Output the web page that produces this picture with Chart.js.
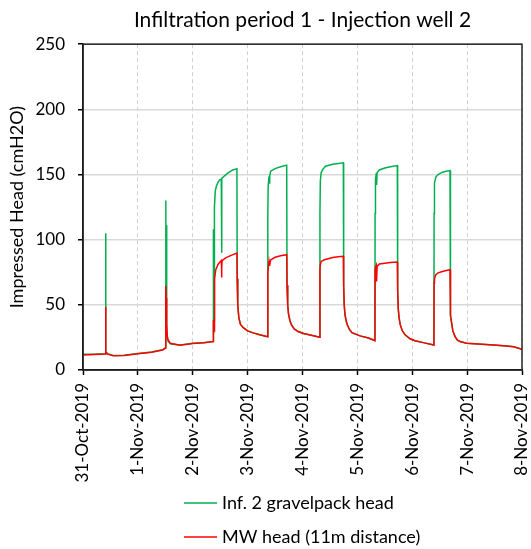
<!DOCTYPE html>
<html lang="en">
<head>
  <meta charset="UTF-8">
  <title>Infiltration period 1 - Injection well 2</title>
  <script src="https://cdn.jsdelivr.net/npm/chart.js"></script>
  <style>
    html, body { margin: 0; padding: 0; background: #fff; }
    #wrap { width: 531px; height: 549px; }
  </style>
</head>
<body>
  <div id="wrap"><canvas id="chartCanvas" width="531" height="549"></canvas></div>

  <script>
    // x values are days since 31-Oct-2019 00:00
    const tickLabels = ['31-Oct-2019', '1-Nov-2019', '2-Nov-2019', '3-Nov-2019', '4-Nov-2019',
                        '5-Nov-2019', '6-Nov-2019', '7-Nov-2019', '8-Nov-2019'];
    const yTicks = [0, 50, 100, 150, 200, 250];

    const gravelDays = [0.00, 0.20, 0.41, 0.413, 0.417, 0.45, 0.55, 0.75, 1.00, 1.25, 1.45, 1.505,
      1.507, 1.512, 1.515, 1.52, 1.53, 1.55, 1.60, 1.77, 2.00, 2.20, 2.372,
      2.375, 2.378, 2.39, 2.395, 2.41, 2.43, 2.46, 2.49, 2.52, 2.523, 2.53, 2.533, 2.58, 2.65, 2.73, 2.805,
      2.81, 2.82, 2.84, 2.87, 2.92, 3.00, 3.10, 3.22, 3.365,
      3.368, 3.375, 3.39, 3.40, 3.405, 3.42, 3.50, 3.60, 3.712,
      3.718, 3.73, 3.745, 3.77, 3.80, 3.85, 3.92, 4.02, 4.14, 4.315,
      4.318, 4.325, 4.34, 4.37, 4.42, 4.55, 4.65, 4.744,
      4.75, 4.76, 4.775, 4.805, 4.85, 4.90, 5.05, 5.20, 5.32,
      5.323, 5.33, 5.345, 5.35, 5.36, 5.40, 5.50, 5.60, 5.728,
      5.734, 5.745, 5.76, 5.78, 5.82, 5.87, 5.96, 6.05, 6.20, 6.395,
      6.398, 6.405, 6.43, 6.47, 6.55, 6.62, 6.688,
      6.693, 6.70, 6.718, 6.74, 6.78, 6.82, 6.87, 6.99, 7.20, 7.48, 7.72, 7.85, 8.00];
    const gravelHead = [12.0, 12.0, 12.5, 105, 14.0, 12.5, 11.2, 11.3, 12.6, 13.8, 15.5, 17.0,
      130, 60, 111, 45, 30, 22, 20.0, 19.2, 20.5, 21.0, 21.8,
      108, 38, 38, 125, 137, 141, 144, 146, 146.5, 90, 90, 147, 149, 151.5, 153.5, 154.5,
      70, 50, 40, 35, 32.5, 30, 28.5, 27, 25.6,
      120, 142, 148.7, 143, 149, 152.6, 154.5, 156, 157.2,
      65, 50, 43, 38, 34.6, 31.5, 29.5, 28, 26.9, 25.1,
      120, 145, 151.3, 154, 156.4, 157.8, 158.5, 159,
      65, 50, 42, 36, 31.5, 28.7, 26.2, 24.5, 22.6,
      120, 146, 151, 142, 151.5, 153.5, 155, 156, 156.9,
      62, 47, 40, 35, 30, 27, 24, 22.5, 21, 19.2,
      120, 143.6, 148, 150, 151.8, 152.5, 153,
      55, 42, 36, 30, 25.6, 23, 21.8, 20.5, 20, 19.2, 18.5, 17.8, 15.9];

    const mwDays = [0.00, 0.20, 0.41, 0.413, 0.417, 0.45, 0.55, 0.75, 1.00, 1.25, 1.45, 1.505,
      1.508, 1.515, 1.525, 1.54, 1.59, 1.77, 2.00, 2.20, 2.372,
      2.375, 2.378, 2.39, 2.393, 2.40, 2.42, 2.46, 2.50, 2.523, 2.526, 2.53, 2.535, 2.60, 2.70, 2.805,
      2.81, 2.82, 2.84, 2.87, 2.92, 3.00, 3.10, 3.22, 3.365,
      3.368, 3.38, 3.39, 3.40, 3.42, 3.50, 3.60, 3.712,
      3.718, 3.73, 3.745, 3.77, 3.80, 3.85, 3.92, 4.02, 4.14, 4.315,
      4.318, 4.325, 4.34, 4.40, 4.55, 4.65, 4.744,
      4.75, 4.76, 4.775, 4.805, 4.85, 4.90, 5.05, 5.20, 5.32,
      5.323, 5.33, 5.345, 5.35, 5.36, 5.40, 5.50, 5.60, 5.728,
      5.734, 5.745, 5.76, 5.78, 5.82, 5.87, 5.96, 6.05, 6.20, 6.395,
      6.398, 6.405, 6.43, 6.47, 6.55, 6.62, 6.688,
      6.693, 6.70, 6.718, 6.74, 6.78, 6.82, 6.87, 6.99, 7.20, 7.48, 7.72, 7.85, 8.00];
    const mwHead = [11.5, 11.8, 12.3, 48.5, 13.5, 12.2, 11.0, 11.2, 12.5, 13.6, 15.4, 16.8,
      64.6, 55, 35, 24, 20.5, 19.0, 20.3, 20.9, 21.8,
      38.5, 28, 30, 62, 70, 77, 81, 83, 84, 71, 78, 84, 86, 88, 89.7,
      70, 50, 40, 35, 32.5, 30, 28.5, 27, 25.6,
      74.4, 80, 83.3, 80, 84.5, 86.5, 87.7, 88.5,
      65, 50, 43, 38, 34.6, 31.5, 29.5, 28, 26.9, 25.1,
      77, 80.8, 83.3, 84.6, 86.3, 86.9, 87.2,
      65, 50, 42, 36, 31.5, 28.7, 26.2, 24.5, 22.6,
      77, 79, 80.5, 67.9, 79.5, 81.3, 82, 82.5, 82.8,
      62, 47, 40, 35, 30, 27, 24, 22.5, 21, 19.2,
      66.7, 70, 73.1, 74.5, 75.6, 76.3, 76.9,
      55, 42, 36, 30, 25.6, 23, 21.8, 20.5, 20, 19.2, 18.5, 17.8, 15.9];

    const seriesNames = ['Inf. 2 gravelpack head', 'MW head (11m distance)'];
    const seriesColors = ['#00b050', '#ff0000'];

    const FONT = 'Lato';
    const toPoints = (xs, ys) => xs.map((x, i) => ({ x: x, y: ys[i] }));

    // frame round the plot area, title centred over the plot area
    const framePlugin = {
      id: 'frame',
      afterLayout(chart) {
        if (chart.titleBlock) {
          chart.titleBlock.left = chart.chartArea.left;
          chart.titleBlock.right = chart.chartArea.right;
        }
      },
      afterDatasetsDraw(chart) {
        const { ctx, chartArea: a } = chart;
        ctx.save();
        ctx.strokeStyle = '#262626';
        ctx.lineWidth = 1.5;
        ctx.strokeRect(a.left, a.top, a.right - a.left, a.bottom - a.top);
        ctx.restore();
      }
    };

    // two-row legend under the axis labels
    const stackedLegend = {
      id: 'stackedLegend',
      afterDraw(chart) {
        const ctx = chart.ctx;
        const rows = [503, 537];
        ctx.save();
        ctx.font = '18px ' + FONT;
        ctx.textBaseline = 'middle';
        ctx.textAlign = 'left';
        chart.data.datasets.forEach((ds, i) => {
          ctx.strokeStyle = ds.borderColor;
          ctx.lineWidth = 1.5;
          ctx.beginPath();
          ctx.moveTo(184, rows[i]);
          ctx.lineTo(217, rows[i]);
          ctx.stroke();
          ctx.fillStyle = '#000';
          ctx.fillText(ds.label, 222, rows[i]);
        });
        ctx.restore();
      }
    };

    new Chart(document.getElementById('chartCanvas'), {
      type: 'line',
      data: {
        datasets: [
          {
            label: seriesNames[0],
            data: toPoints(gravelDays, gravelHead),
            borderColor: seriesColors[0],
            borderWidth: 1.5,
            pointRadius: 0,
            tension: 0,
            order: 2
          },
          {
            label: seriesNames[1],
            data: toPoints(mwDays, mwHead),
            borderColor: seriesColors[1],
            borderWidth: 1.5,
            pointRadius: 0,
            tension: 0,
            order: 1
          }
        ]
      },
      options: {
        responsive: false,
        animation: false,
        layout: { padding: { left: 0, right: 9, top: 0, bottom: 0 } },
        plugins: {
          legend: { display: false },
          tooltip: { enabled: false },
          title: {
            display: true,
            text: 'Infiltration period 1 - Injection well 2',
            color: '#000',
            font: { family: FONT, size: 21, weight: 'normal' },
            padding: { top: 8, bottom: 11 }
          }
        },
        scales: {
          x: {
            type: 'linear',
            min: 0,
            max: 8,
            afterFit(scale) {
              scale.height = 179;
              scale.paddingLeft = 0;
              scale.paddingRight = 0;
            },
            afterBuildTicks(scale) { scale.ticks = tickLabels.map((t, i) => ({ value: i })); },
            ticks: {
              autoSkip: false,
              maxRotation: 90,
              minRotation: 90,
              padding: 8,
              color: '#000',
              font: { family: FONT, size: 17 },
              callback: (v) => tickLabels[v]
            },
            grid: {
              color: '#d0d0d0',
              lineWidth: 1,
              tickColor: '#000',
              tickLength: 5,
              tickWidth: 1.5,
              tickBorderDash: []
            },
            border: { color: '#000', width: 1.5, dash: [4, 3] }
          },
          y: {
            min: 0,
            max: 250,
            afterFit(scale) { scale.width = 83; },
            afterBuildTicks(scale) { scale.ticks = yTicks.map(v => ({ value: v })); },
            ticks: {
              padding: 13,
              color: '#000',
              font: { family: FONT, size: 17 }
            },
            grid: {
              color: '#d9d9d9',
              lineWidth: 1.5,
              tickColor: '#000',
              tickLength: 5,
              tickWidth: 1.5
            },
            border: { color: '#000', width: 1.5 },
            title: {
              display: true,
              text: 'Impressed Head (cmH2O)',
              color: '#000',
              font: { family: FONT, size: 18 },
              padding: { top: 6, bottom: 0 }
            }
          }
        }
      },
      plugins: [framePlugin, stackedLegend]
    });
  </script>
</body>
</html>
